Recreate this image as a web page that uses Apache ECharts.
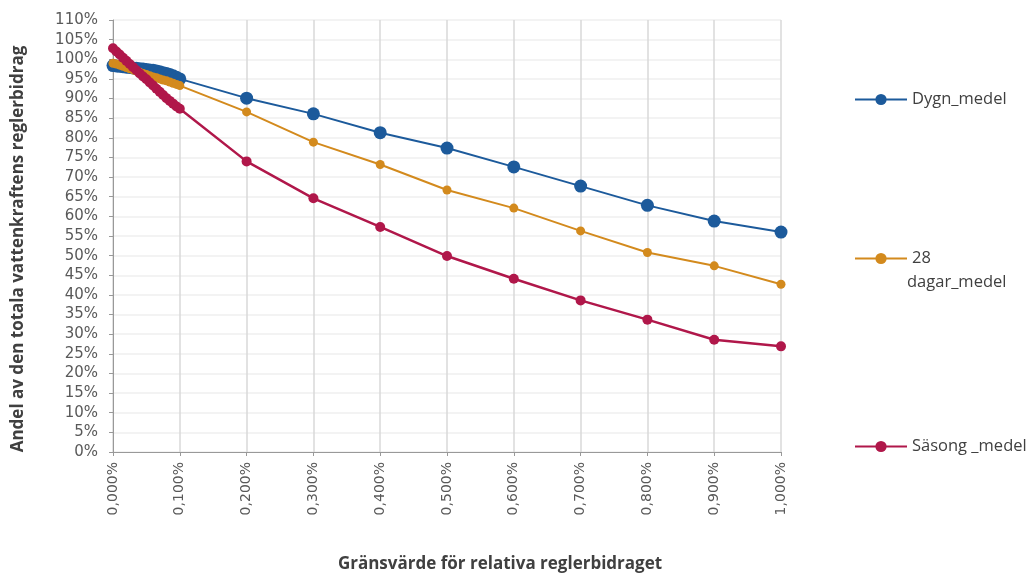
<!DOCTYPE html>
<html>
<head>
<meta charset="utf-8">
<script src="https://cdn.jsdelivr.net/npm/echarts@6/dist/echarts.min.js"></script>
<style>html,body{margin:0;padding:0;background:#fff}#c{width:1027px;height:577px}</style>
</head>
<body>
<div id="c"></div>
<script>
// x values in percent
const xValues = [0.000,0.005,0.010,0.015,0.020,0.025,0.030,0.035,0.040,0.045,0.050,0.055,0.060,0.065,0.070,0.075,0.080,0.085,0.090,0.095,0.100,0.2,0.3,0.4,0.5,0.6,0.7,0.8,0.9,1.0];
const dygnMedel = [98.4,98.3,98.2,98.1,98.0,97.9,97.8,97.7,97.6,97.5,97.4,97.3,97.2,97.0,96.8,96.6,96.4,96.1,95.8,95.4,95.0,90.1,86.1,81.3,77.4,72.6,67.7,62.8,58.8,56.0];
const dagarMedel = [99.0,98.8,98.5,98.2,97.9,97.6,97.3,97.0,96.7,96.4,96.1,95.8,95.5,95.3,95.0,94.7,94.5,94.2,93.9,93.6,93.3,86.6,78.9,73.2,66.7,62.1,56.3,50.8,47.4,42.7];
const sasongMedel = [102.8,102.0,101.2,100.4,99.6,98.8,98.0,97.2,96.4,95.6,94.9,94.1,93.3,92.5,91.7,90.9,90.1,89.4,88.7,88.0,87.4,74.0,64.6,57.3,49.9,44.1,38.6,33.7,28.6,26.9];
const seriesNames = ['Dygn_medel','28 dagar_medel','Säsong _medel'];
const colors = ['#1c5a9b','#d38a1d','#b0174a'];

const TICKFONT = 'DejaVu Sans';
const TEXTFONT = 'Open Sans';
const pair = arr => xValues.map((x,i)=>[x,arr[i]]);

const chart = echarts.init(document.getElementById('c'));
const legendBase = {
  orient:'vertical', left:849, itemWidth:52, itemHeight:14, itemGap:0,
  textStyle:{fontFamily:TEXTFONT,fontSize:16.5,color:'#404040'},
  formatter: n => n === '28 dagar_medel' ? '28' : n
};
chart.setOption({
  animation:false,
  textStyle:{fontFamily:TEXTFONT},
  grid:{left:113,right:246,top:20,bottom:125,containLabel:false,outerBoundsMode:'none'},
  legend:[
    Object.assign({},legendBase,{data:[seriesNames[0]],top:86}),
    Object.assign({},legendBase,{data:[seriesNames[1]],top:245}),
    Object.assign({},legendBase,{data:[seriesNames[2]],top:433})
  ],
  graphic:[{type:'text',left:907,top:274,style:{text:'dagar_medel',font:'16.5px "Open Sans"',fill:'#404040'}}],
  xAxis:{
    type:'value',min:0,max:1,interval:0.1,
    name:'Gränsvärde för relativa reglerbidraget',nameLocation:'middle',nameGap:104,
    nameTextStyle:{fontFamily:TEXTFONT,fontSize:17,fontWeight:'bold',color:'#404040',padding:[0,0,0,106]},
    axisLine:{show:true,lineStyle:{color:'#999999',width:1}},
    axisTick:{show:true,length:4,lineStyle:{color:'#999999'}},
    axisLabel:{rotate:90,margin:10,fontFamily:TICKFONT,fontSize:14,color:'#595959',
      formatter:v=>v.toFixed(3).replace('.',',')+'%'},
    splitLine:{show:true,lineStyle:{color:'#d9d9d9',width:1.5}}
  },
  yAxis:{
    type:'value',min:0,max:110,interval:5,
    name:'Andel av den totala vattenkraftens reglerbidrag',nameLocation:'middle',nameGap:86,
    nameTextStyle:{fontFamily:TEXTFONT,fontSize:17,fontWeight:'bold',color:'#404040',padding:[0,26,0,0]},
    axisLine:{show:true,lineStyle:{color:'#999999',width:1}},
    axisTick:{show:true,length:4,lineStyle:{color:'#999999'}},
    axisLabel:{margin:15,fontFamily:TICKFONT,fontSize:15,color:'#595959',formatter:v=>v+'%'},
    splitLine:{show:true,lineStyle:{color:'#efefef',width:1.5}}
  },
  series:[
    {name:seriesNames[0],type:'line',data:pair(dygnMedel),symbol:'circle',symbolSize:13,
      itemStyle:{color:colors[0]},lineStyle:{color:colors[0],width:2}},
    {name:seriesNames[1],type:'line',data:pair(dagarMedel),symbol:'circle',symbolSize:9,
      itemStyle:{color:colors[1]},lineStyle:{color:colors[1],width:2}},
    {name:seriesNames[2],type:'line',data:pair(sasongMedel),symbol:'circle',symbolSize:10,
      itemStyle:{color:colors[2]},lineStyle:{color:colors[2],width:2.5}}
  ]
});
</script>
</body>
</html>
